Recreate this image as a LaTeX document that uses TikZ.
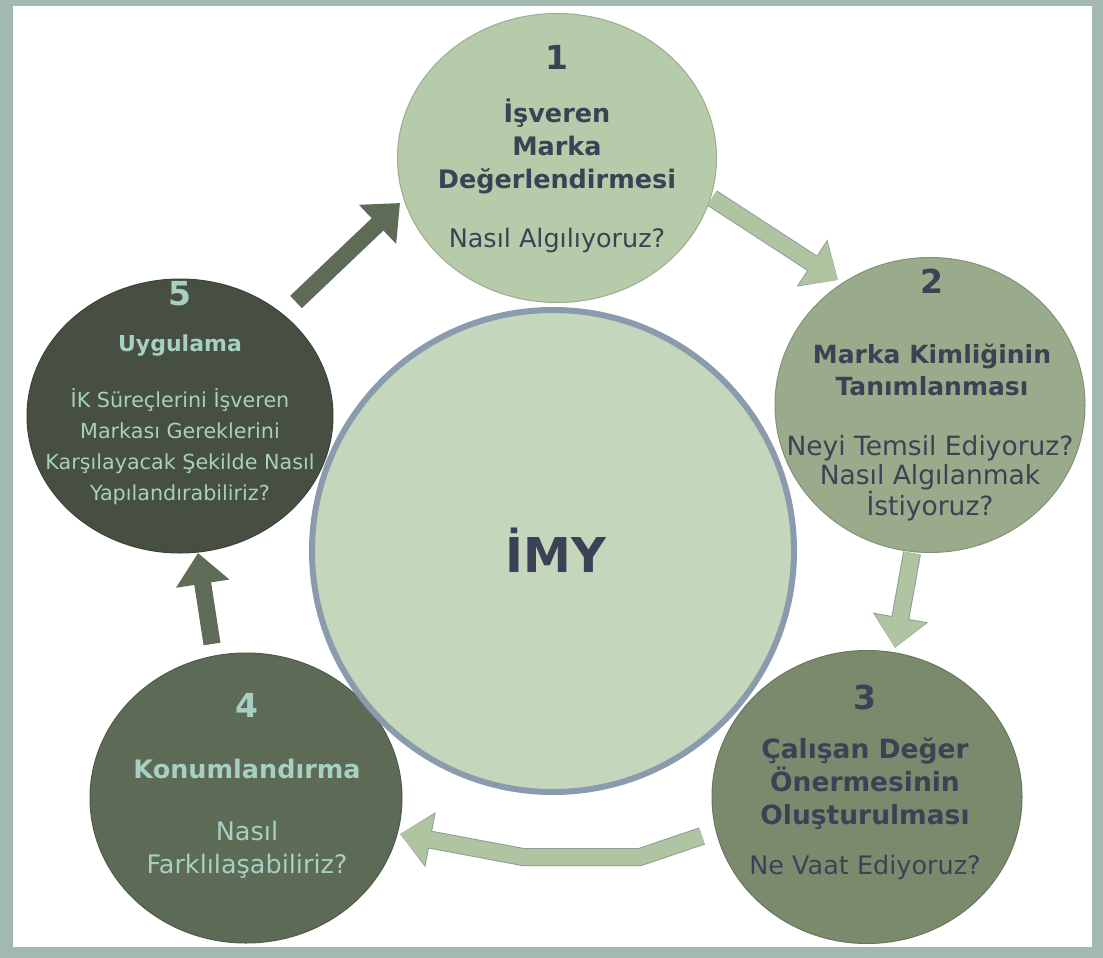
\documentclass[tikz,border=0pt]{standalone}
\usepackage{fontspec}
\setmainfont{DejaVu Sans}
\usetikzlibrary{arrows.meta,shapes.geometric}

\definecolor{framegray}{HTML}{A2B8B0}
\definecolor{stageA}{HTML}{B6CBA9}
\definecolor{stageB}{HTML}{9AAB8B}
\definecolor{stageC}{HTML}{7B8A6D}
\definecolor{stageD}{HTML}{5D6A55}
\definecolor{stageE}{HTML}{464F41}
\definecolor{centerfill}{HTML}{C4D6BB}
\definecolor{centeredge}{HTML}{8B9BAE}
\definecolor{arrowlight}{HTML}{AFC5A2}
\definecolor{arrowedge}{HTML}{8E9E96}
\definecolor{arrowdark}{HTML}{5E6B56}
\definecolor{inkdark}{HTML}{3B4255}
\definecolor{inklight}{HTML}{A6D0C1}

\begin{document}
\begin{tikzpicture}[x=1pt,y=-1pt,
  stage/.style={ellipse,fill=#1,draw=#1!85!black,line width=1pt,inner sep=0pt},
  flowdark/.style={draw=arrowdark,line width=17pt,-{Triangle[length=31pt,width=52pt]}},
  flowlight/.style={draw=arrowlight,line width=16pt,-{Triangle[length=30pt,width=50pt]},
    preaction={draw=arrowedge,line width=18pt,-{Triangle[length=31pt,width=54pt]}}},
  num/.style={font=\bfseries\fontsize{33}{38}\selectfont,text=#1},
  ttl/.style={font=\bfseries\fontsize{25.5}{33}\selectfont,align=center,text=#1},
  txt/.style={font=\fontsize{25.5}{31}\selectfont,align=center,text=#1}]
\useasboundingbox (0,0) rectangle (1103,958);
\fill[framegray] (0,0) rectangle (1103,958);
\fill[white] (13,6) rectangle (1092,947);
% the five stages
\node[stage=stageA,minimum width=319pt,minimum height=289pt] (c1) at (557,158) {};
\node[stage=stageB,minimum width=310pt,minimum height=295pt] (c2) at (930,405) {};
\node[stage=stageC,minimum width=310pt,minimum height=293pt] (c3) at (867,797) {};
\node[stage=stageD,minimum width=312pt,minimum height=290pt] (c4) at (246,798) {};
\node[stage=stageE,minimum width=306pt,minimum height=274pt] (c5) at (180,416) {};
% arrow ends
\coordinate (a1s) at (712,198);
\coordinate (a1e) at (838,280);
\coordinate (a2s) at (912,553);
\coordinate (a2e) at (895,648);
\coordinate (a3s) at (702,836);
\coordinate (a3m) at (640,857);
\coordinate (a3n) at (523,857);
\coordinate (a3e) at (400,834);
\coordinate (a4s) at (212,644);
\coordinate (a4e) at (198,553);
\coordinate (a5s) at (296,302);
\coordinate (a5e) at (400,203);
\draw[flowlight] (a1s) -- (a1e);
\draw[flowlight] (a2s) -- (a2e);
\draw[flowlight] (a3s) -- (a3m) -- (a3n) -- (a3e);
\draw[flowdark] (a4s) -- (a4e);
\draw[flowdark] (a5s) -- (a5e);
% centre
\node[circle,fill=centerfill,draw=centeredge,line width=6pt,minimum size=482pt,inner sep=0pt] (c0) at (553,551) {};
\node[font=\bfseries\fontsize{48}{56}\selectfont,text=inkdark] (imy) at (556,550) {İMY};
% texts
\node[num=inkdark] (n1) at (557,57) {1};
\node[ttl=inkdark] (t1) at (557,146) {İşveren\\Marka\\Değerlendirmesi};
\node[txt=inkdark] (b1) at (557,240) {Nasıl Algılıyoruz?};
\node[num=inkdark] (n2) at (932,281) {2};
\node[ttl=inkdark,font=\bfseries\fontsize{25}{32}\selectfont] (t2) at (932,370) {Marka Kimliğinin\\Tanımlanması};
\node[txt=inkdark,font=\fontsize{26.5}{29.5}\selectfont] (b2) at (930,478) {Neyi Temsil Ediyoruz?\\Nasıl Algılanmak\\İstiyoruz?};
\node[num=inkdark] (n3) at (865,697) {3};
\node[ttl=inkdark,font=\bfseries\fontsize{26.5}{33}\selectfont] (t3) at (865,784) {Çalışan Değer\\Önermesinin\\Oluşturulması};
\node[txt=inkdark] (b3) at (865,867) {Ne Vaat Ediyoruz?};
\node[num=inklight] (n4) at (247,705) {4};
\node[ttl=inklight] (t4) at (247,769) {Konumlandırma};
\node[txt=inklight,font=\fontsize{25.5}{33}\selectfont] (b4) at (247,850) {Nasıl\\Farklılaşabiliriz?};
\node[num=inklight] (n5) at (180,294) {5};
\node[ttl=inklight,font=\bfseries\fontsize{22}{28}\selectfont] (t5) at (180,346) {Uygulama};
\node[txt=inklight,font=\fontsize{20.7}{31}\selectfont] (b5) at (180,447) {İK Süreçlerini İşveren\\Markası Gereklerini\\Karşılayacak Şekilde Nasıl\\Yapılandırabiliriz?};
\end{tikzpicture}
\end{document}
